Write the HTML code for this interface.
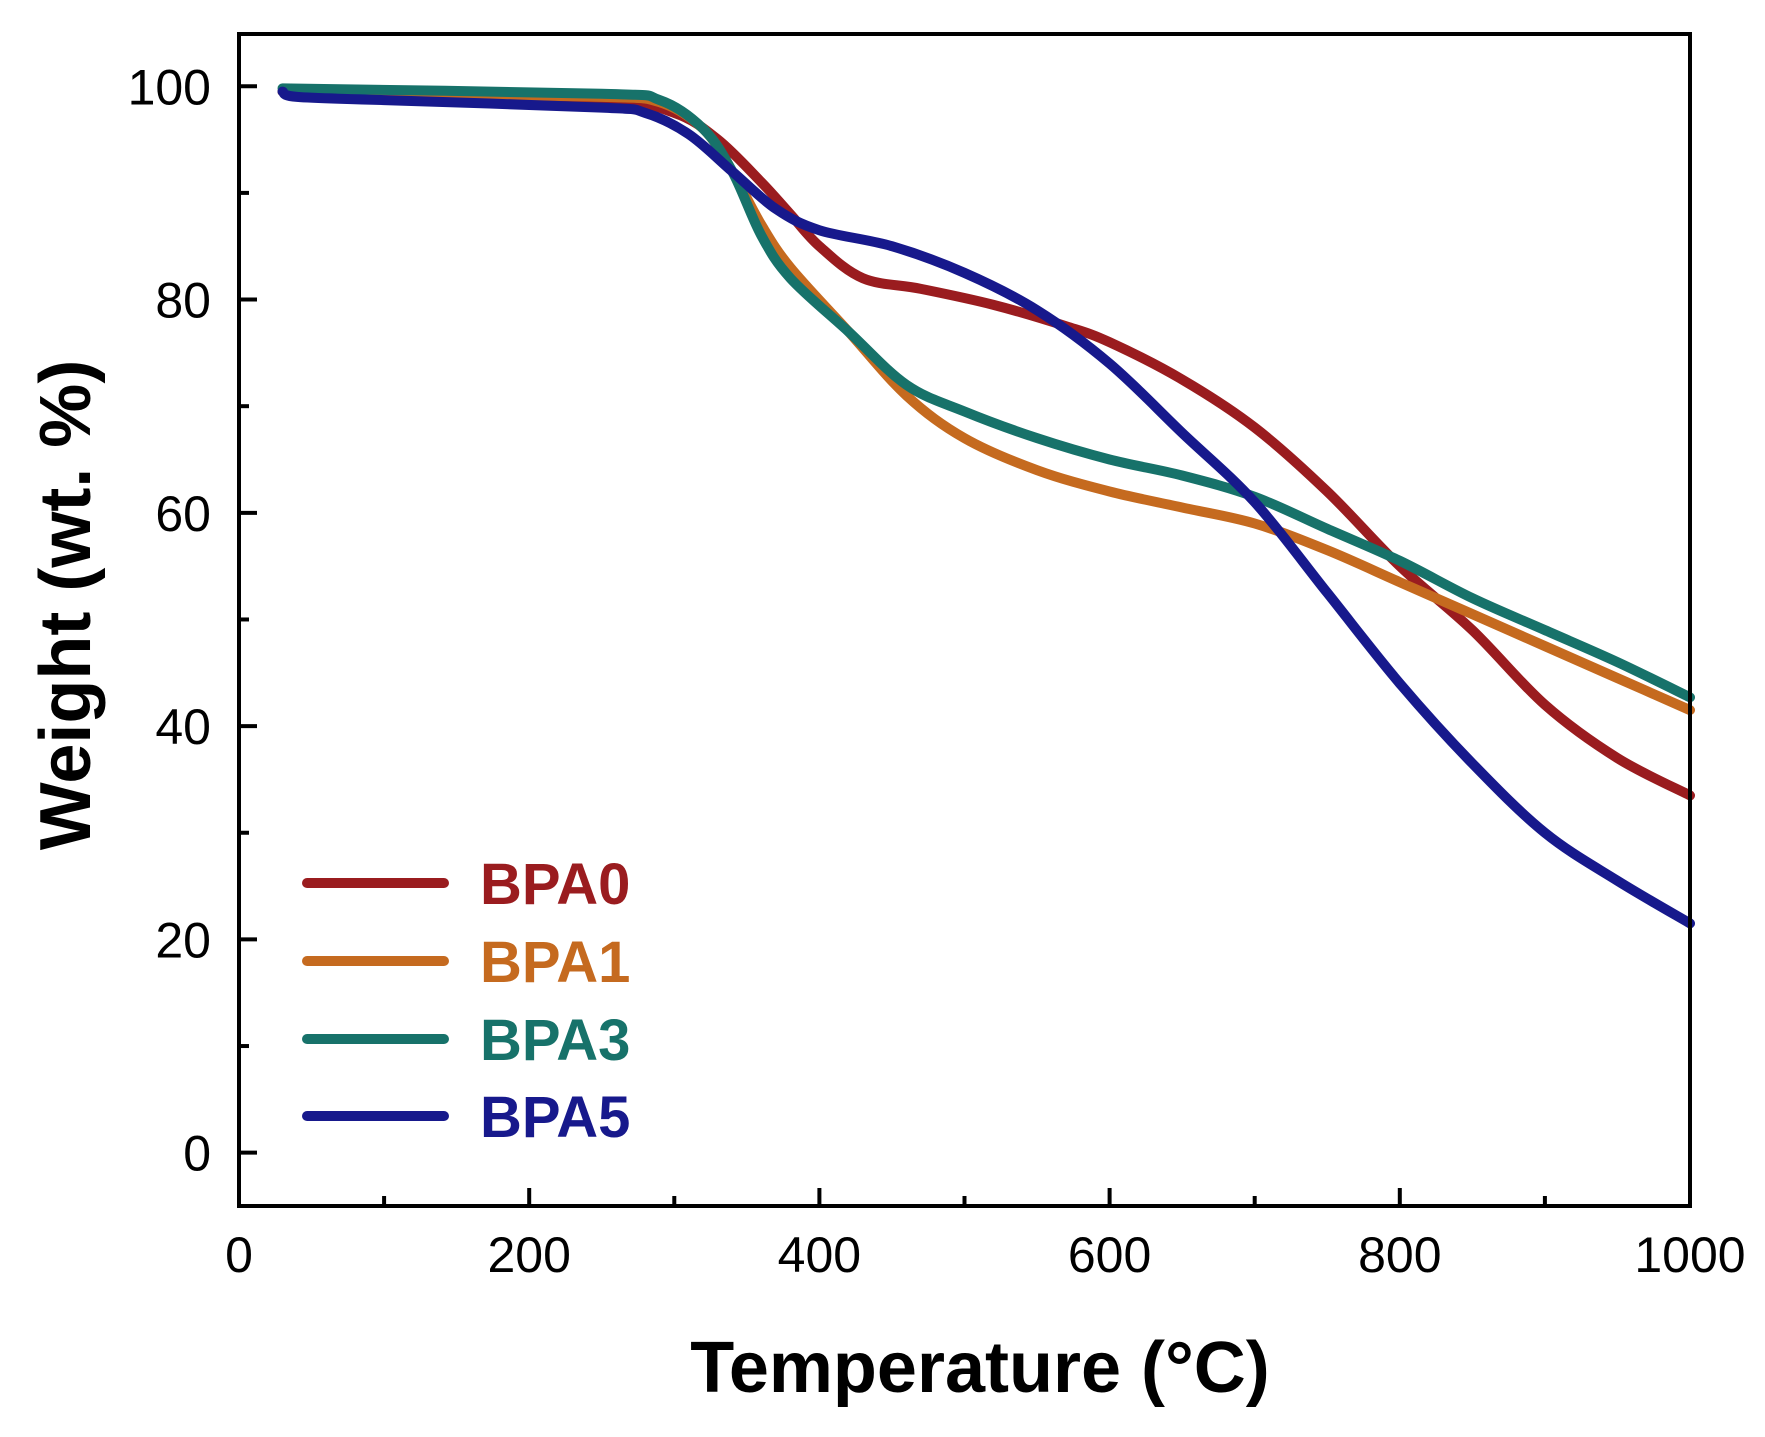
<!DOCTYPE html>
<html><head><meta charset="utf-8"><style>
html,body{margin:0;padding:0;background:#fff;}
svg{display:block;font-family:"Liberation Sans",Arial,sans-serif;}
</style></head><body>
<svg id="chart" width="1765" height="1437" viewBox="0 0 1765 1437">
<g id="marks"></g>
<g id="axes"></g>
</svg>
<script>
const xTicks=[0,200,400,600,800,1000];
const yTicks=[0,20,40,60,80,100];
const seriesNames=["BPA0","BPA1","BPA3","BPA5"];
const seriesColors=["#9a1c1f","#c56a1f","#17726a","#17198c"];
const tBPA0=[30,100,250,300,330,360,380,400,430,470,520,570,600,650,700,750,800,850,900,950,1000];
const wBPA0=[99.5,99,98.8,97.5,95,91,88,85,82,81,79.5,77.5,76,72.5,68,62,55,49,42,37,33.5];
const tBPA1=[30,100,250,290,320,340,360,380,420,460,500,550,600,650,700,750,800,850,900,950,1000];
const wBPA1=[99.5,99.3,99,98.5,96,92,87,83,77,71,67,64,62,60.5,59,56.5,53.5,50.5,47.5,44.5,41.5];
const tBPA3=[30,250,290,320,340,360,380,420,460,500,550,600,650,700,750,800,850,900,950,1000];
const wBPA3=[99.8,99.3,98.7,96,92,86,82,77,72,69.5,67,65,63.5,61.5,58.5,55.5,52,49,46,42.7];
const tBPA5=[30,40,100,250,280,310,340,370,400,450,500,550,600,650,700,750,800,850,900,950,1000];
const wBPA5=[99.5,99,98.7,98,97.5,95.5,92,88.5,86.5,85,82.5,79,74,67.5,61,52.5,44,36.5,30,25.5,21.5];
const temps=[tBPA0,tBPA1,tBPA3,tBPA5];
const weights=[wBPA0,wBPA1,wBPA3,wBPA5];

const L=239,R=1690,T=34,B=1206,XMIN=0,XMAX=1000,YMIN=-5,YMAX=104.9;
function xs(v){return L+(v-XMIN)/(XMAX-XMIN)*(R-L);}
function ys(v){return B-(v-YMIN)/(YMAX-YMIN)*(B-T);}
const NS="http://www.w3.org/2000/svg";
function mk(tag,attrs,parent){const e=document.createElementNS(NS,tag);for(const k in attrs)e.setAttribute(k,attrs[k]);parent.appendChild(e);return e;}
const marks=document.getElementById('marks'),axes=document.getElementById('axes');

function smoothPath(px,py){
  let d="M"+px[0]+","+py[0];
  for(let i=0;i<px.length-1;i++){
    const x0=px[i-1]??px[i],y0=py[i-1]??py[i],x1=px[i],y1=py[i],x2=px[i+1],y2=py[i+1],x3=px[i+2]??x2,y3=py[i+2]??y2;
    d+=" C"+(x1+(x2-x0)/6)+","+(y1+(y2-y0)/6)+" "+(x2-(x3-x1)/6)+","+(y2-(y3-y1)/6)+" "+x2+","+y2;
  }
  return d;
}
for(let s=0;s<4;s++){
  const p=mk('path',{d:smoothPath(temps[s].map(xs),weights[s].map(ys)),fill:'none',stroke:seriesColors[s],'stroke-width':10,'stroke-linecap':'round','stroke-linejoin':'round'},marks);
  
  
}
const fr=mk('rect',{x:L,y:T,width:R-L,height:B-T,fill:'none',stroke:'#000','stroke-width':4},axes);


for(let v=0;v<=1000;v+=100){
  const major=v%200===0;
  const t=mk('line',{x1:xs(v),x2:xs(v),y1:B,y2:B-(major?18:10),stroke:'#000','stroke-width':4},axes);
  
  
}
xTicks.forEach(v=>{
  const t=mk('text',{x:xs(v),y:B+66,'font-size':50,'text-anchor':'middle',fill:'#000'},axes);
  t.textContent=v;
  
  
});
for(let v=0;v<=100;v+=10){
  const major=v%20===0;
  const t=mk('line',{x1:L,x2:L+(major?18:10),y1:ys(v),y2:ys(v),stroke:'#000','stroke-width':4},axes);
  
  
}
yTicks.forEach(v=>{
  const t=mk('text',{x:L-28,y:ys(v)+18,'font-size':50,'text-anchor':'end',fill:'#000'},axes);
  t.textContent=v;
  
  
});
const xt=mk('text',{x:980,y:1392,'font-size':72,'font-weight':'bold','text-anchor':'middle',fill:'#000'},axes);
xt.textContent="Temperature (°C)";


const yt=mk('text',{x:0,y:0,'font-size':72,'font-weight':'bold','text-anchor':'middle',fill:'#000',transform:'translate(90,605) rotate(-90)'},axes);
yt.textContent="Weight (wt. %)";


const legY=[883,961,1039,1116];
for(let s=0;s<4;s++){
  const g=mk('g',{},axes);
  
  
  mk('line',{x1:307,x2:444,y1:legY[s],y2:legY[s],stroke:seriesColors[s],'stroke-width':10,'stroke-linecap':'round'},g);
  const tx=mk('text',{x:480,y:legY[s]+21,'font-size':58,'font-weight':'bold',fill:seriesColors[s]},g);
  tx.textContent=seriesNames[s];
}
</script>
</body></html>
